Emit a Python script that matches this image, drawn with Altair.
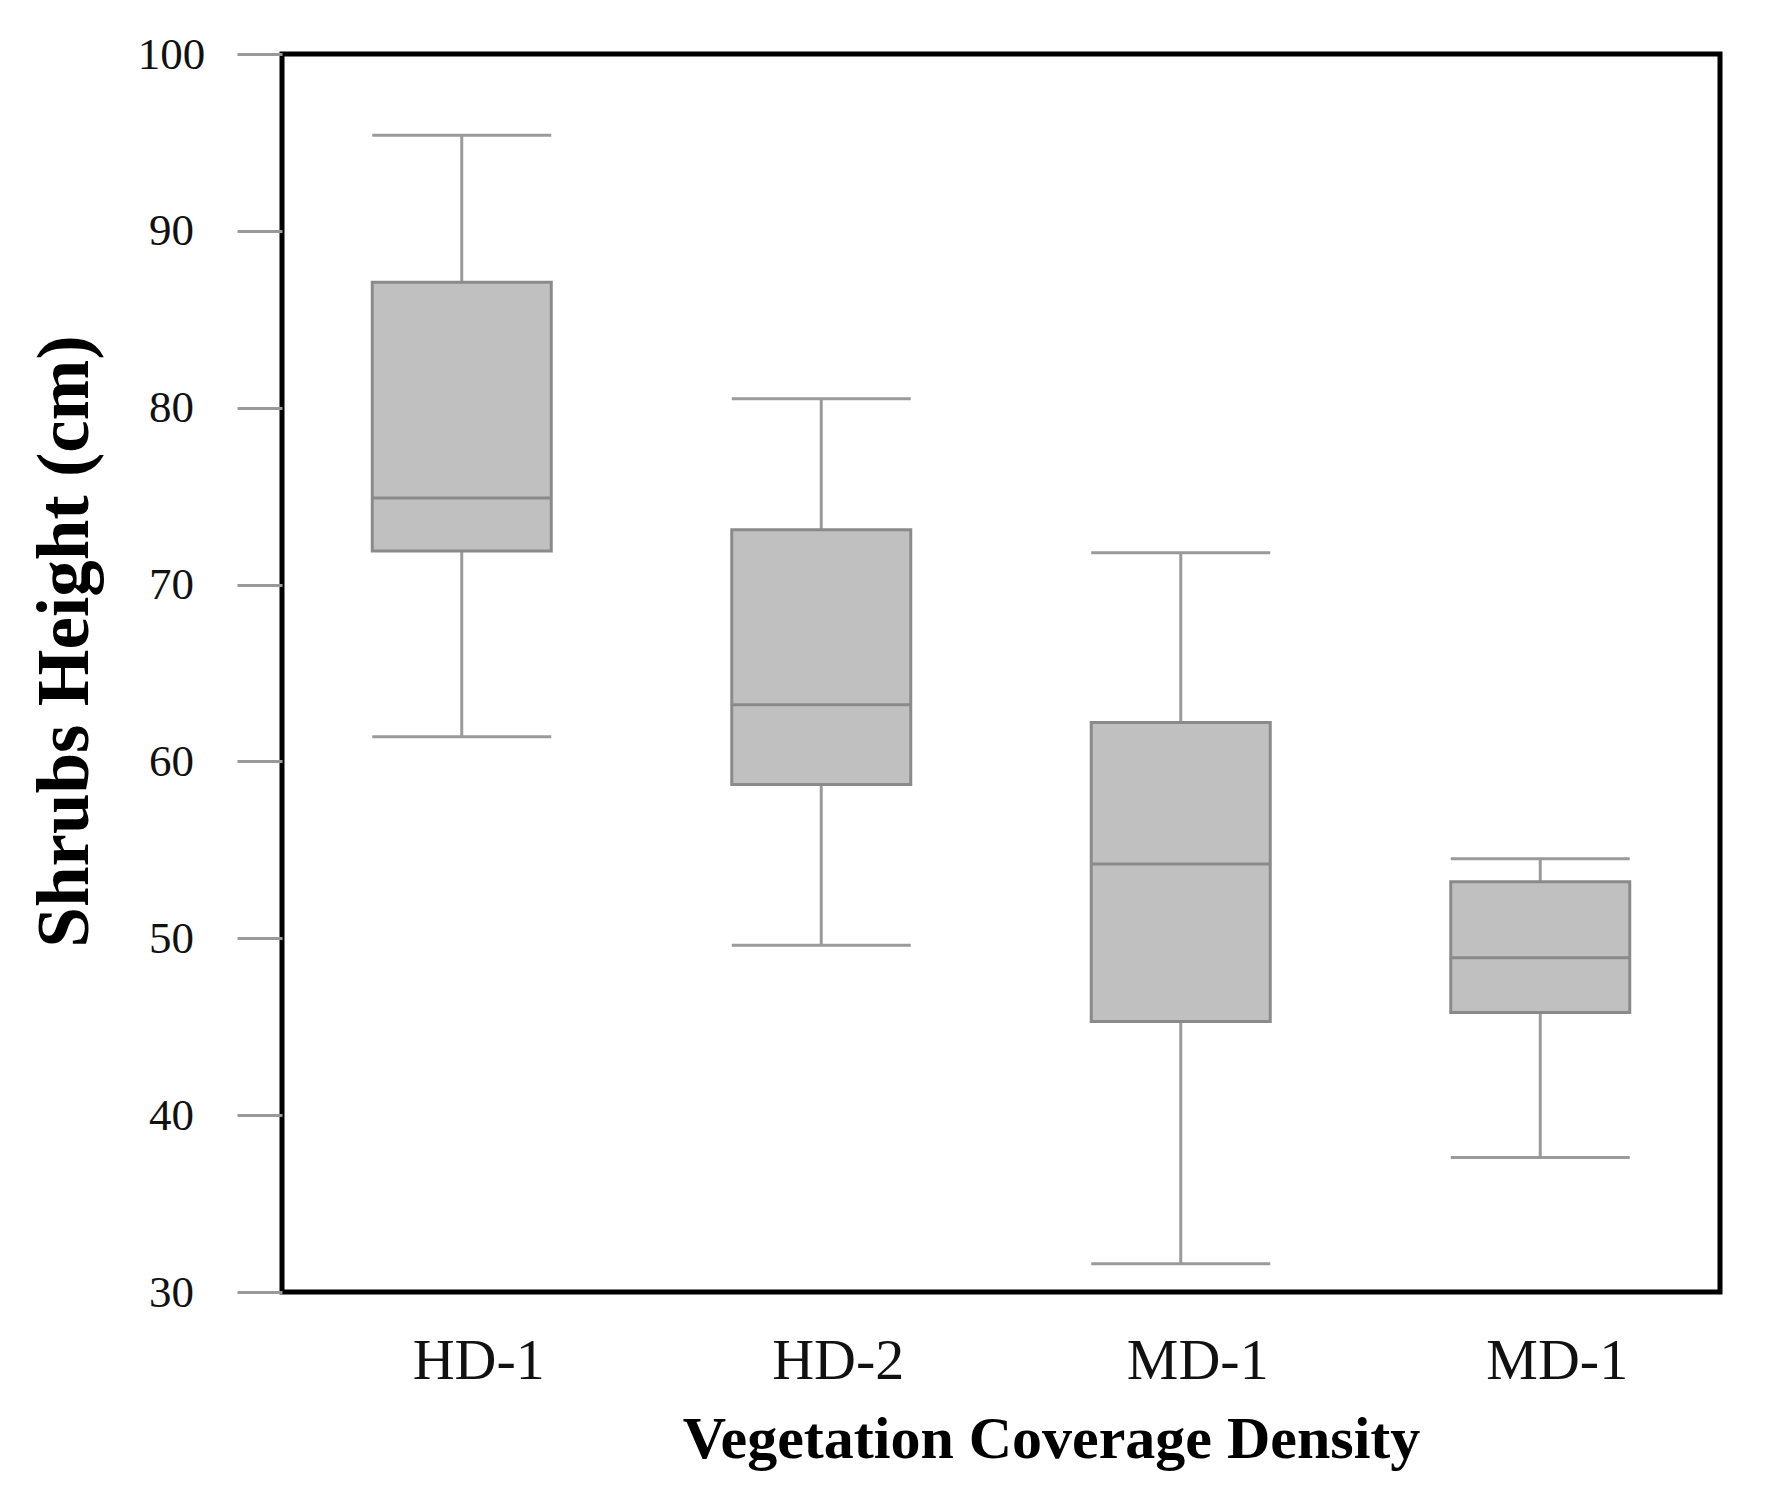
import altair as alt
import pandas as pd

group_ids = ["g1", "g2", "g3", "g4"]
group_labels = ["HD-1", "HD-2", "MD-1", "MD-1"]
lower = [61.4, 49.6, 31.6, 37.6]
q1 = [71.9, 58.7, 45.3, 45.8]
median = [74.9, 63.2, 54.2, 48.9]
q3 = [87.1, 73.1, 62.2, 53.2]
upper = [95.4, 80.5, 71.8, 54.5]
y_ticks = [30, 40, 50, 60, 70, 80, 90, 100]

df = pd.DataFrame({"group": group_ids, "lower": lower, "q1": q1,
                   "median": median, "q3": q3, "upper": upper})

FONT = "Liberation Serif"
BOX_W = 179

label_expr = "[" + ",".join("'%s'" % l for l in group_labels) + "][indexof([" + \
    ",".join("'%s'" % g for g in group_ids) + "], datum.value)]"

x = alt.X("group:N", sort=group_ids,
          scale=alt.Scale(paddingInner=0, paddingOuter=0),
          axis=alt.Axis(title="Vegetation Coverage Density", labelExpr=label_expr,
                        labelAngle=0, labelFont=FONT, labelFontSize=58, labelColor="#111",
                        labelPadding=40, labelOffset=17, labelBaseline="top",
                        ticks=False, tickSize=0, domain=False, grid=False,
                        titleFont=FONT, titleFontSize=60, titleFontWeight="bold",
                        titleColor="#000", titleX=769, titleY=165,
                        titleBaseline="alphabetic", titleAlign="center"))

yscale = alt.Scale(domain=[30, 100], nice=False, zero=False)
yaxis = alt.Axis(title="Shrubs Height (cm)", values=y_ticks, grid=False, domain=False,
                 tickSize=45, tickColor="#999", tickWidth=3,
                 labelFont=FONT, labelFontSize=45, labelColor="#111",
                 labelAlign="center", labelBaseline="middle", labelPadding=66,
                 titleFont=FONT, titleFontSize=73, titleFontWeight="bold",
                 titleColor="#000", titleAngle=270, titleX=-195, titleY=587,
                 titleBaseline="alphabetic", titleAlign="center")

base = alt.Chart(df)

whisker = base.mark_rule(color="#9a9a9a", strokeWidth=3).encode(
    x=x, y=alt.Y("lower:Q", scale=yscale, axis=yaxis), y2="upper:Q")
box = base.mark_bar(size=BOX_W, color="#c0c0c0", stroke="#8a8a8a", strokeWidth=3).encode(
    x=x, y=alt.Y("q1:Q", scale=yscale, axis=yaxis), y2="q3:Q")
med = base.mark_tick(size=BOX_W, thickness=3, color="#8a8a8a", opacity=1).encode(
    x=x, y=alt.Y("median:Q", scale=yscale, axis=yaxis))
cap_lo = base.mark_tick(size=BOX_W, thickness=3, color="#9a9a9a", opacity=1).encode(
    x=x, y=alt.Y("lower:Q", scale=yscale, axis=yaxis))
cap_hi = base.mark_tick(size=BOX_W, thickness=3, color="#9a9a9a", opacity=1).encode(
    x=x, y=alt.Y("upper:Q", scale=yscale, axis=yaxis))

chart = alt.layer(whisker, box, med, cap_lo, cap_hi).properties(
    width=1438, height=1238,
    autosize=alt.AutoSizeParams(type="none"),
    padding={"left": 274, "top": 46, "right": 38, "bottom": 201},
    background="white",
).configure_view(stroke="#000", strokeWidth=5)

chart.save("out.html", embed_options={"renderer": "svg", "actions": False})
